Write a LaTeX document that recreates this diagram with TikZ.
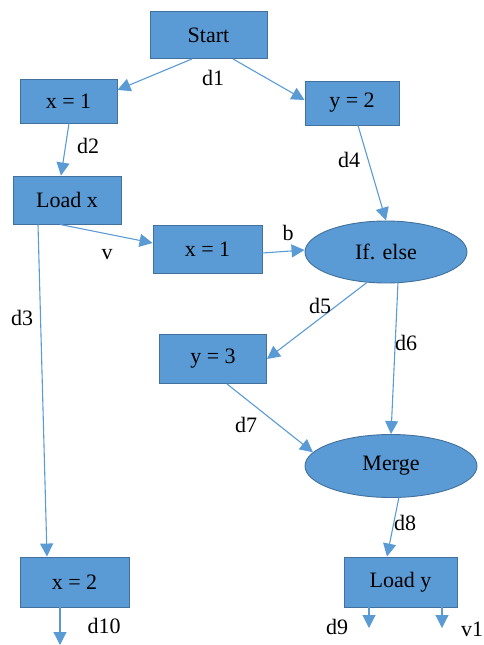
\documentclass[tikz,border=0pt]{standalone}
\usepackage{fontspec}
\setmainfont{Liberation Serif}
\usetikzlibrary{arrows.meta,shapes,positioning}
\definecolor{boxfill}{HTML}{5B9BD5}
\definecolor{boxline}{HTML}{41719C}
\tikzset{
  basic/.style  = {draw=boxline, fill=boxfill, line width=0.9pt, inner sep=0pt,
                   font=\fontsize{22}{24}\selectfont},
  box/.style    = {basic, rectangle},
  oval/.style   = {basic, ellipse},
  lbl/.style    = {inner sep=0pt, font=\fontsize{22}{24}\selectfont},
  flow/.style   = {draw=boxfill, line width=1.1pt,
                   -{Triangle[length=13pt,width=13pt]}}
}
\begin{document}
\begin{tikzpicture}[x=1pt,y=-1pt]
	  \useasboundingbox (0,0) rectangle (484,645);

	  % boxes and ovals
	  \node[box, minimum width=117pt, minimum height=47pt] (start) at (208.5,35) {Start};
	  \node[box, minimum width=97pt, minimum height=44pt] (xa) at (68.5,101) {x = 1};
	  \node[box, minimum width=94pt, minimum height=44pt] (yb) at (352,103) {y = 2};
	  \node[box, minimum width=108pt, minimum height=48pt] (loadx) at (67,200) {Load x};
	  \node[box, minimum width=109pt, minimum height=48pt] (xm) at (207.5,249) {x = 1};
	  \node[oval, minimum width=162pt, minimum height=62pt] (ifelse) at (386,252) {If. else};
	  \node[box, minimum width=107pt, minimum height=49pt] (ythree) at (213,359) {y = 3};
	  \node[oval, minimum width=172pt, minimum height=63pt] (merge) at (391,466) {Merge};
	  \node[box, minimum width=109pt, minimum height=50pt] (xtwo) at (74.5,582) {x = 2};
	  \node[box, minimum width=113pt, minimum height=50pt] (loady) at (400.5,582) {Load y};

	  % loose ends at the bottom
	  \coordinate (endten) at (60,645);
	  \coordinate (endnine) at (369,628);
	  \coordinate (endvone) at (442,628);

	  % connectors
	  \draw[flow] ([xshift=-16.5pt]start.south) -- ([yshift=11pt]xa.east);
	  \draw[flow] ([xshift=24.5pt]start.south) -- ([yshift=3pt]yb.west);
	  \draw[flow] ([xshift=0.5pt]xa.south) -- ([xshift=-6pt]loadx.north);
	  \draw[flow] ([xshift=6pt]yb.south) -- (ifelse.north);
	  \draw[flow] ([xshift=-7pt]loadx.south) -- ([yshift=6pt]xm.west);
	  \draw[flow] ([xshift=-29pt]loadx.south) -- ([xshift=-27.5pt]xtwo.north);
	  \draw[flow] ([yshift=-4pt]xm.east) -- ([yshift=2pt]ifelse.west);
	  \draw[flow] ([xshift=-19pt,yshift=1pt]ifelse.south) -- (ythree.east);
	  \draw[flow] ([xshift=12pt,yshift=1pt]ifelse.south) -- (merge.north);
	  \draw[flow] ([xshift=14pt]ythree.south) -- (merge.170);
	  \draw[flow] ([xshift=8pt,yshift=1pt]merge.south) -- ([xshift=-13.5pt]loady.north);
	  \draw[flow] (xtwo.south -| endten) -- (endten);
	  \draw[flow] (loady.south -| endnine) -- (endnine);
	  \draw[flow] (loady.south -| endvone) -- (endvone);

	  % edge labels
	  \node[lbl] (ld1) at (213,78) {d1};
	  \node[lbl] (ld2) at (88,146) {d2};
	  \node[lbl] (ld4) at (349,160) {d4};
	  \node[lbl] (lv) at (107,255) {v};
	  \node[lbl] (lb) at (288,233) {b};
	  \node[lbl] (ld3) at (22,318) {d3};
	  \node[lbl] (ld5) at (320,306) {d5};
	  \node[lbl] (ld6) at (406,343) {d6};
	  \node[lbl] (ld7) at (246,425) {d7};
	  \node[lbl] (ld8) at (405,523) {d8};
	  \node[lbl] (ld10) at (104,626) {d10};
	  \node[lbl] (ld9) at (337,627) {d9};
	  \node[lbl] (lv1) at (472,629) {v1};
\end{tikzpicture}
\end{document}
